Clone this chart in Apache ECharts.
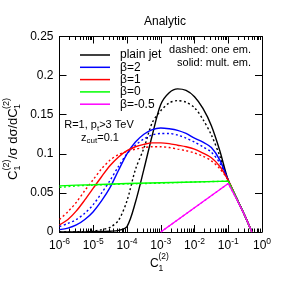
<!DOCTYPE html>
<html><head><meta charset="utf-8">
<script src="https://cdn.jsdelivr.net/npm/echarts@6/dist/echarts.min.js"></script>
<style>html,body{margin:0;padding:0;background:#fff}#c{width:284px;height:284px}</style>
</head><body><div id="c"></div>
<script>
const FONT = '"Liberation Sans", Arial, Helvetica, sans-serif';

// ---- data (x given as log10 of C1^(2)) ----
const legendNames = ['plain jet', 'β=2', 'β=1', 'β=0', 'β=-0.5'];
const colors = ['#000000', '#0000ff', '#ff0000', '#00ff00', '#ff00ff'];

// common log10(C) grid for plain jet, beta=2, beta=1
const gridLog = [-6, -5.75, -5.5, -5.25, -5, -4.75, -4.5, -4.25, -4, -3.75, -3.5, -3.25, -3, -2.75, -2.5, -2.25, -2, -1.75, -1.5, -1.25, -1, -0.75, -0.5, -0.3];
const plainMult = [0, 0, 0, 0.0002, 0.0004, 0.0007, 0.001, 0.002, 0.007, 0.038, 0.08, 0.124, 0.163, 0.178, 0.183, 0.181, 0.173, 0.158, 0.136, 0.104, 0.066, 0.043, 0.02, 0];
const plainOne = [0, 0, 0.0002, 0.0005, 0.001, 0.003, 0.006, 0.015, 0.04, 0.08, 0.107, 0.14, 0.155, 0.165, 0.168, 0.166, 0.159, 0.144, 0.124, 0.097, 0.066, 0.043, 0.02, 0];
const beta2Mult = [0.003, 0.005, 0.009, 0.016, 0.026, 0.04, 0.057, 0.079, 0.1, 0.115, 0.125, 0.131, 0.133, 0.132, 0.13, 0.126, 0.12, 0.115, 0.108, 0.092, 0.066, 0.043, 0.02, 0];
const beta2One = [0.007, 0.011, 0.016, 0.024, 0.035, 0.05, 0.066, 0.084, 0.1, 0.111, 0.119, 0.124, 0.126, 0.126, 0.124, 0.12, 0.115, 0.109, 0.102, 0.088, 0.066, 0.043, 0.02, 0];
const beta1Mult = [0.009, 0.016, 0.027, 0.041, 0.056, 0.071, 0.085, 0.096, 0.104, 0.109, 0.112, 0.114, 0.114, 0.113, 0.111, 0.109, 0.106, 0.101, 0.095, 0.084, 0.066, 0.043, 0.02, 0];
const beta1One = [0.016, 0.026, 0.038, 0.053, 0.067, 0.081, 0.092, 0.099, 0.103, 0.106, 0.108, 0.109, 0.109, 0.108, 0.106, 0.104, 0.101, 0.097, 0.091, 0.081, 0.066, 0.043, 0.02, 0];

const beta0Log = [-6, -5.5, -5, -4, -3, -2, -1, -0.75, -0.5, -0.3];
const beta0Mult = [0.059, 0.06, 0.0605, 0.062, 0.063, 0.064, 0.065, 0.043, 0.02, 0];
const beta0One = [0.057, 0.059, 0.06, 0.0615, 0.0625, 0.064, 0.065, 0.043, 0.02, 0];

const betaM05Log = [-3, -2, -1, -0.75, -0.5, -0.3];
const betaM05Mult = [0, 0.031, 0.062, 0.042, 0.02, 0];
const betaM05One = [0, 0.031, 0.062, 0.042, 0.02, 0];

const xMajorExp = [-6, -5, -4, -3, -2, -1, 0];

// ---- build ----
const xMajor = xMajorExp.map(e => Math.pow(10, e));
const xMinor = [];
for (let e = -6; e < 0; e++) for (let m = 2; m <= 9; m++) xMinor.push(m * Math.pow(10, e));
const pts = (lx, vy) => lx.map((l, i) => [Math.pow(10, l), vy[i]]);

function mk(name, idx, lx, vy, dashed, smooth) {
  return {
    type: 'line', name: name, xAxisIndex: 0, yAxisIndex: 0,
    data: pts(lx, vy), showSymbol: false, symbol: 'none',
    smooth: smooth, clip: true,
    lineStyle: { color: colors[idx], width: 1.4, type: dashed ? [2, 2.5] : 'solid' },
    itemStyle: { color: colors[idx] },
    z: dashed ? 2 : 3
  };
}

const series = [
  mk(legendNames[0], 0, gridLog, plainMult, false, 0.3),
  mk(legendNames[0] + ' one', 0, gridLog, plainOne, true, 0.3),
  mk(legendNames[1], 1, gridLog, beta2Mult, false, 0.3),
  mk(legendNames[1] + ' one', 1, gridLog, beta2One, true, 0.3),
  mk(legendNames[2], 2, gridLog, beta1Mult, false, 0.3),
  mk(legendNames[2] + ' one', 2, gridLog, beta1One, true, 0.3),
  mk(legendNames[3], 3, beta0Log, beta0Mult, false, false),
  mk(legendNames[3] + ' one', 3, beta0Log, beta0One, true, false),
  mk(legendNames[4], 4, betaM05Log, betaM05Mult, false, false),
  mk(legendNames[4] + ' one', 4, betaM05Log, betaM05One, true, false)
];

const axLine = { show: true, lineStyle: { color: '#000', width: 1 } };
function xAx(pos, ticks, len, labels, line) {
  return {
    type: 'log', logBase: 10, min: 1e-6, max: 1, position: pos,
    axisLine: line ? axLine : { show: false },
    axisTick: { show: true, inside: true, length: len, customValues: ticks, lineStyle: { color: '#000', width: 1 } },
    axisLabel: labels ? {
      show: true, customValues: xMajor, margin: 5,
      formatter: v => '{b|10}{s|' + Math.round(Math.log10(v)) + '}',
      rich: {
        b: { fontSize: 12, fontFamily: FONT, color: '#000', lineHeight: 18 },
        s: { fontSize: 8.5, fontFamily: FONT, color: '#000', verticalAlign: 'top', lineHeight: 9 }
      }
    } : { show: false },
    splitLine: { show: false }, minorTick: { show: false }, minorSplitLine: { show: false }
  };
}

const option = {
  animation: false,
  backgroundColor: '#fff',
  title: { text: 'Analytic', left: 139, top: 11, textStyle: { fontSize: 12, fontWeight: 'normal', fontFamily: FONT, color: '#000' } },
  grid: { left: 59.5, right: 22, top: 36.5, bottom: 52, containLabel: false },
  legend: {
    data: legendNames, orient: 'vertical', left: 75, top: 44,
    icon: 'rect', itemWidth: 30, itemHeight: 1.5, itemGap: 0.3, selectedMode: false,
    textStyle: { fontSize: 12, fontFamily: FONT, color: '#000', padding: [0, 0, 0, 5], lineHeight: 12 }
  },
  xAxis: [
    xAx('bottom', xMajor, 7, true, true),
    xAx('bottom', xMinor, 3.5, false, false),
    xAx('top', xMajor, 7, false, true),
    xAx('top', xMinor, 3.5, false, false)
  ],
  yAxis: [
    {
      type: 'value', min: 0, max: 0.25, interval: 0.05, position: 'left',
      axisLine: axLine,
      axisTick: { show: true, inside: true, length: 7, lineStyle: { color: '#000' } },
      axisLabel: { margin: 6, fontSize: 12, fontFamily: FONT, color: '#000', formatter: v => String(+v.toFixed(2)) },
      splitLine: { show: false }
    },
    {
      type: 'value', min: 0, max: 0.25, interval: 0.05, position: 'right',
      axisLine: axLine,
      axisTick: { show: true, inside: true, length: 7, lineStyle: { color: '#000' } },
      axisLabel: { show: false }, splitLine: { show: false }
    }
  ],
  graphic: [
    { type: 'text', x: 251, y: 50, style: { text: 'dashed: one em.', fontSize: 11, fontFamily: FONT, fill: '#000', textAlign: 'right', textVerticalAlign: 'middle' } },
    { type: 'text', x: 251, y: 62.5, style: { text: 'solid: mult. em.', fontSize: 11, fontFamily: FONT, fill: '#000', textAlign: 'right', textVerticalAlign: 'middle' } },
    { type: 'text', x: 99, y: 125, style: {
        text: '{a|R=1, p}{b|t}{a|>3 TeV}', textAlign: 'center', textVerticalAlign: 'middle',
        rich: { a: { fontSize: 11, fontFamily: FONT, color: '#000', lineHeight: 15 }, b: { fontSize: 8, fontFamily: FONT, color: '#000', verticalAlign: 'bottom', lineHeight: 8 } } } },
    { type: 'text', x: 100, y: 137.5, style: {
        text: '{a|z}{b|cut}{a|=0.1}', textAlign: 'center', textVerticalAlign: 'middle',
        rich: { a: { fontSize: 11, fontFamily: FONT, color: '#000', lineHeight: 15 }, b: { fontSize: 8, fontFamily: FONT, color: '#000', verticalAlign: 'bottom', lineHeight: 8 } } } },
    // x axis name
    { type: 'text', x: 150, y: 264, style: { text: 'C', fontSize: 12, fontFamily: FONT, fill: '#000', textAlign: 'left', textVerticalAlign: 'middle' } },
    { type: 'text', x: 158.5, y: 256.5, style: { text: '(2)', fontSize: 8.5, fontFamily: FONT, fill: '#000', textAlign: 'left', textVerticalAlign: 'middle' } },
    { type: 'text', x: 158.5, y: 268.5, style: { text: '1', fontSize: 8.5, fontFamily: FONT, fill: '#000', textAlign: 'left', textVerticalAlign: 'middle' } },
    // y axis name (rotated)
    { type: 'group', x: 13, y: 138, rotation: Math.PI / 2, children: [
      { type: 'text', x: -42, y: 0, style: { text: 'C', fontSize: 13, fontFamily: FONT, fill: '#000', textAlign: 'left', textVerticalAlign: 'middle' } },
      { type: 'text', x: -32.5, y: 4.5, style: { text: '1', fontSize: 9, fontFamily: FONT, fill: '#000', textAlign: 'left', textVerticalAlign: 'middle' } },
      { type: 'text', x: -32.5, y: -6.5, style: { text: '(2)', fontSize: 9, fontFamily: FONT, fill: '#000', textAlign: 'left', textVerticalAlign: 'middle' } },
      { type: 'text', x: -21, y: 0, style: { text: '/σ dσ/dC', fontSize: 13, fontFamily: FONT, fill: '#000', textAlign: 'left', textVerticalAlign: 'middle' } },
      { type: 'text', x: 29, y: 4.5, style: { text: '1', fontSize: 9, fontFamily: FONT, fill: '#000', textAlign: 'left', textVerticalAlign: 'middle' } },
      { type: 'text', x: 29, y: -6.5, style: { text: '(2)', fontSize: 9, fontFamily: FONT, fill: '#000', textAlign: 'left', textVerticalAlign: 'middle' } }
    ] }
  ],
  series: series
};

const chart = echarts.init(document.getElementById('c'), null, { renderer: 'canvas' });
chart.setOption(option);
</script>
</body></html>
